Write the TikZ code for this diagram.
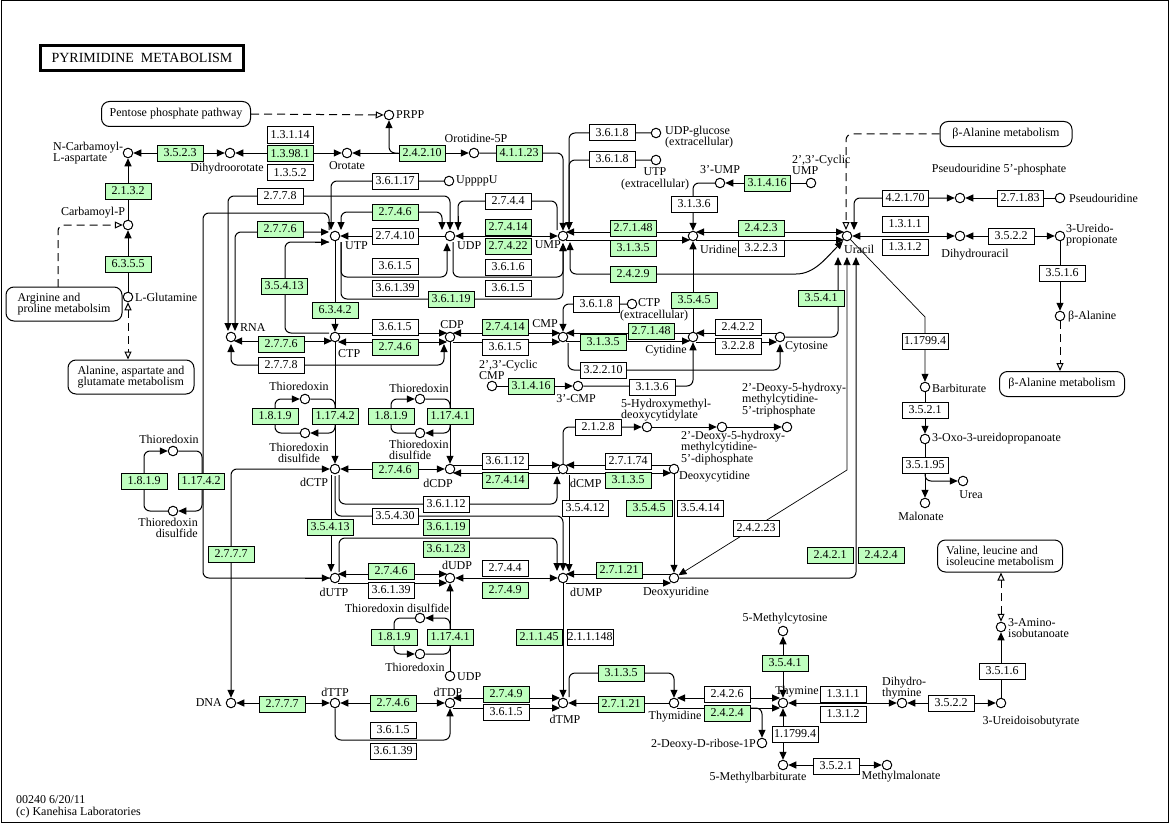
\documentclass[tikz,border=0pt]{standalone}
\usepackage{fontspec}
\setmainfont{Liberation Serif}
\usetikzlibrary{arrows.meta,calc}
\definecolor{kgreen}{HTML}{BFFFBF}
\pgfdeclarelayer{bg}
\pgfsetlayers{bg,main}
\newcommand\kfont{\fontsize{12}{11.5}\selectfont}
\tikzset{
 cpd/.style={circle,draw,line width=1pt,minimum size=9.5pt,inner sep=0pt,fill=white},
 ez/.style={draw,line width=1pt,minimum width=46pt,minimum height=16pt,inner sep=0pt,fill=white,font=\kfont},
 gz/.style={ez,fill=kgreen},
 lb/.style={inner sep=0pt,font=\kfont,align=center},
 mapbox/.style={draw,line width=1pt,rounded corners=8pt,fill=white,inner sep=0pt,font=\kfont,align=left},
 ln/.style={line width=1pt,rounded corners=6pt},
 thn/.style={line width=0.7pt},
 dsh/.style={line width=1pt,dash pattern=on 8pt off 5pt,rounded corners=6pt},
 ar/.style={-{Triangle[length=8pt,width=7pt]}},
 ab/.style={{Triangle[length=8pt,width=7pt]}-{Triangle[length=8pt,width=7pt]}},
 oa/.style={-{Triangle[open,length=8pt,width=7pt]}},
 oab/.style={{Triangle[open,length=8pt,width=7pt]}-{Triangle[open,length=8pt,width=7pt]}}
}
\begin{document}
\begin{tikzpicture}[x=1pt,y=-1pt]
\useasboundingbox (0,0) rectangle (1172,824);
\draw[line width=1pt] (1,1) rectangle (1168,822);
\node[draw,line width=2.5pt,minimum width=203pt,minimum height=25pt,inner sep=0pt,font=\fontsize{14}{14}\selectfont] (title) at (142,58) {PYRIMIDINE\ \ METABOLISM};
% maps
\node[mapbox,minimum width=149pt,minimum height=25pt] (ppp) at (176,114) {Pentose phosphate pathway};
\node[mapbox,minimum width=116pt,minimum height=34pt] (argmap) at (64,304) {Arginine and\\proline metabolsim};
\node[mapbox,minimum width=126pt,minimum height=34pt] (alamap) at (131,377) {Alanine, aspartate and\\glutamate metabolism};
\node[mapbox,minimum width=132pt,minimum height=25pt] (bamap) at (1006,134) {β-Alanine metabolism};
\node[mapbox,minimum width=125pt,minimum height=25pt] (bamapb) at (1062,384) {β-Alanine metabolism};
\node[mapbox,minimum width=125pt,minimum height=32pt] (valmap) at (1000,556) {Valine, leucine and\\isoleucine metabolism};
\coordinate (argtop) at (58,287);
\node[lb,anchor=west,align=left] (foot) at (16,807) {00240 6/20/11\\(c) Kanehisa Laboratories};
% compounds
\node[cpd] (prpp) at (389,115) {};
\node[cpd] (ncasp) at (128,153) {};
\node[cpd] (dhoro) at (230,153) {};
\node[cpd] (orot) at (347,153) {};
\node[cpd] (omp) at (474,153) {};
\node[cpd] (carbp) at (128,225) {};
\node[cpd] (gln) at (128,297) {};
\node[cpd] (uppppu) at (449,181) {};
\node[cpd] (udpglc) at (656,133) {};
\node[cpd] (utpex) at (656,160) {};
\node[cpd] (ump3) at (720,183) {};
\node[cpd] (cump) at (811,183) {};
\node[cpd] (utp) at (335,236) {};
\node[cpd] (udp) at (450,236) {};
\node[cpd] (ump) at (563,236) {};
\node[cpd] (urd) at (693,236) {};
\node[cpd] (ura) at (847,236) {};
\node[cpd] (psip) at (960,198) {};
\node[cpd] (psi) at (1060,198) {};
\node[cpd] (dhu) at (960,236) {};
\node[cpd] (urp) at (1060,236) {};
\node[cpd] (bala) at (1060,316) {};
\node[cpd] (rna) at (231,337) {};
\node[cpd] (ctp) at (335,337) {};
\node[cpd] (cdp) at (450,337) {};
\node[cpd] (cmp) at (563,337) {};
\node[cpd] (cyd) at (693,337) {};
\node[cpd] (cyt) at (780,337) {};
\node[cpd] (ctpex) at (632,304) {};
\node[cpd] (ccmp) at (492,386) {};
\node[cpd] (cmp3) at (578,386) {};
\node[cpd] (trxa) at (305,399) {};
\node[cpd] (trxssa) at (305,433) {};
\node[cpd] (trxb) at (420,399) {};
\node[cpd] (trxssb) at (420,433) {};
\node[cpd] (trxc) at (173,451) {};
\node[cpd] (trxssc) at (173,511) {};
\node[cpd] (hmdcmp) at (647,427) {};
\node[cpd] (hmdcdp) at (722,427) {};
\node[cpd] (hmdctp) at (787,427) {};
\node[cpd] (dctp) at (335,469) {};
\node[cpd] (dcdp) at (450,469) {};
\node[cpd] (dcmp) at (563,469) {};
\node[cpd] (dcyd) at (674,469) {};
\node[cpd] (dutp) at (335,578) {};
\node[cpd] (dudp) at (450,578) {};
\node[cpd] (dump) at (563,578) {};
\node[cpd] (durd) at (674,578) {};
\node[cpd] (trxssd) at (420,618) {};
\node[cpd] (trxd) at (420,654) {};
\node[cpd] (udpb) at (450,676) {};
\node[cpd] (dna) at (231,703) {};
\node[cpd] (dttp) at (335,703) {};
\node[cpd] (dtdp) at (450,703) {};
\node[cpd] (dtmp) at (563,703) {};
\node[cpd] (thd) at (674,703) {};
\node[cpd] (drib) at (762,743) {};
\node[cpd] (thy) at (783,703) {};
\node[cpd] (mcyt) at (783,631) {};
\node[cpd] (mbarb) at (783,765) {};
\node[cpd] (mmal) at (887,765) {};
\node[cpd] (dht) at (902,703) {};
\node[cpd] (uib) at (1001,703) {};
\node[cpd] (aib) at (1001,627) {};
\node[cpd] (barb) at (925,387) {};
\node[cpd] (oxo) at (925,439) {};
\node[cpd] (urea) at (963,481) {};
\node[cpd] (mal) at (925,503) {};
% labels
\node[lb,anchor=west] (l1) at (396,115) {PRPP};
\node[lb,anchor=west,align=left] (l2) at (53,153) {N-Carbamoyl-\\L-aspartate};
\node[lb] (l3) at (227,169) {Dihydroorotate};
\node[lb] (l4) at (347,166) {Orotate};
\node[lb] (l5) at (476,138) {Orotidine-5P};
\node[lb] (l6) at (93,213) {Carbamoyl-P};
\node[lb,anchor=west] (l7) at (135,297) {L-Glutamine};
\node[lb,anchor=west] (l8) at (456,181) {UppppU};
\node[lb,anchor=west,align=left] (l9) at (665,137) {UDP-glucose\\(extracellular)};
\node[lb] (l10) at (655,179) {UTP\\(extracellular)};
\node[lb] (l11) at (720,170) {3'-UMP};
\node[lb,anchor=west,align=left] (l12) at (792,165) {2',3'-Cyclic\\UMP};
\node[lb,anchor=west] (l13) at (345,246) {UTP};
\node[lb,anchor=west] (l14) at (457,246) {UDP};
\node[lb,anchor=east] (l15) at (561,245) {UMP};
\node[lb,anchor=west] (l16) at (700,249) {Uridine};
\node[lb,anchor=west] (l17) at (844,249) {Uracil};
\node[lb] (l18) at (999,170) {Pseudouridine 5'-phosphate};
\node[lb,anchor=west] (l19) at (1069,198) {Pseudouridine};
\node[lb] (l20) at (975,255) {Dihydrouracil};
\node[lb,anchor=west,align=left] (l21) at (1066,235) {3-Ureido-\\propionate};
\node[lb,anchor=west] (l22) at (1068,317) {β-Alanine};
\node[lb,anchor=west] (l23) at (240,328) {RNA};
\node[lb,anchor=west] (l24) at (338,354) {CTP};
\node[lb] (l25) at (452,325) {CDP};
\node[lb] (l26) at (545,324) {CMP};
\node[lb] (l27) at (666,351) {Cytidine};
\node[lb,anchor=west] (l28) at (785,347) {Cytosine};
\node[lb,anchor=west] (l29) at (638,303) {CTP};
\node[lb] (l30) at (654,316) {(extracellular)};
\node[lb,anchor=west,align=left] (l31) at (479,370) {2',3'-Cyclic\\CMP};
\node[lb] (l32) at (576,399) {3'-CMP};
\node[lb] (l33) at (299,386) {Thioredoxin};
\node[lb] (l34) at (299,453) {Thioredoxin\\disulfide};
\node[lb] (l35) at (419,388) {Thioredoxin};
\node[lb,anchor=west,align=left] (l36) at (389,450) {Thioredoxin\\disulfide};
\node[lb] (l37) at (169,439) {Thioredoxin};
\node[lb,anchor=east,align=right] (l38) at (198,528) {Thioredoxin\\disulfide};
\node[lb,anchor=west,align=left] (l39) at (621,410) {5-Hydroxymethyl-\\deoxycytidylate};
\node[lb,anchor=west,align=left] (l40) at (681,448) {2'-Deoxy-5-hydroxy-\\methylcytidine-\\5'-diphosphate};
\node[lb,anchor=west,align=left] (l41) at (742,400) {2'-Deoxy-5-hydroxy-\\methylcytidine-\\5'-triphosphate};
\node[lb] (l42) at (314,482) {dCTP};
\node[lb] (l43) at (438,483) {dCDP};
\node[lb,anchor=west] (l44) at (570,483) {dCMP};
\node[lb,anchor=west] (l45) at (679,477) {Deoxycytidine};
\node[lb] (l46) at (334,592) {dUTP};
\node[lb] (l47) at (457,565) {dUDP};
\node[lb,anchor=west] (l48) at (570,592) {dUMP};
\node[lb] (l49) at (676,593) {Deoxyuridine};
\node[lb] (l50) at (397,608) {Thioredoxin disulfide};
\node[lb] (l51) at (415,667) {Thioredoxin};
\node[lb,anchor=west] (l52) at (457,677) {UDP};
\node[lb,anchor=east] (l53) at (222,703) {DNA};
\node[lb] (l54) at (335,692) {dTTP};
\node[lb] (l55) at (448,692) {dTDP};
\node[lb] (l56) at (565,719) {dTMP};
\node[lb] (l57) at (675,717) {Thymidine};
\node[lb,anchor=east] (l58) at (756,745) {2-Deoxy-D-ribose-1P};
\node[lb] (l59) at (797,692) {Thymine};
\node[lb] (l60) at (785,619) {5-Methylcytosine};
\node[lb] (l61) at (758,778) {5-Methylbarbiturate};
\node[lb] (l62) at (901,777) {Methylmalonate};
\node[lb,anchor=west,align=left] (l63) at (882,688) {Dihydro-\\thymine};
\node[lb] (l64) at (1031,722) {3-Ureidoisobutyrate};
\node[lb,anchor=west,align=left] (l65) at (1008,628) {3-Amino-\\isobutanoate};
\node[lb,anchor=west] (l66) at (932,388) {Barbiturate};
\node[lb,anchor=west] (l67) at (932,439) {3-Oxo-3-ureidopropanoate};
\node[lb] (l68) at (971,495) {Urea};
\node[lb] (l69) at (921,516) {Malonate};
% enzymes
\node[gz] (e3523) at (180,153) {3.5.2.3};
\node[ez] (e13114) at (290,135) {1.3.1.14};
\node[gz] (e13981) at (290,153.5) {1.3.98.1};
\node[ez] (e1352) at (290,172.5) {1.3.5.2};
\node[gz] (e24210) at (422,153) {2.4.2.10};
\node[gz] (e41123) at (519,153) {4.1.1.23};
\node[gz] (e2132) at (128,191) {2.1.3.2};
\node[gz] (e6355) at (128,264) {6.3.5.5};
\node[ez] (e2778a) at (280,196) {2.7.7.8};
\node[gz] (e2776a) at (280,229) {2.7.7.6};
\node[gz] (e35413a) at (284,286) {3.5.4.13};
\node[ez] (e36117) at (395,181) {3.6.1.17};
\node[gz] (e2746a) at (395,212) {2.7.4.6};
\node[ez] (e27410) at (395,236) {2.7.4.10};
\node[ez] (e3615a) at (395,266) {3.6.1.5};
\node[ez] (e36139a) at (395,288) {3.6.1.39};
\node[ez] (e2744a) at (508,201) {2.7.4.4};
\node[gz] (e27414a) at (508,227) {2.7.4.14};
\node[gz] (e27422) at (508,246) {2.7.4.22};
\node[ez] (e3616) at (508,267) {3.6.1.6};
\node[ez] (e3615b) at (508,288) {3.6.1.5};
\node[gz] (e36119a) at (451,299) {3.6.1.19};
\node[gz] (e6342) at (335,310) {6.3.4.2};
\node[ez] (e3618a) at (612,133) {3.6.1.8};
\node[ez] (e3618b) at (612,159) {3.6.1.8};
\node[gz] (e31416a) at (767,183) {3.1.4.16};
\node[ez] (e3136a) at (694,204) {3.1.3.6};
\node[gz] (e27148a) at (633,228) {2.7.1.48};
\node[gz] (e3135a) at (633,248) {3.1.3.5};
\node[gz] (e2423) at (761,228) {2.4.2.3};
\node[ez] (e3223) at (761,248) {3.2.2.3};
\node[gz] (e2429) at (633,274) {2.4.2.9};
\node[ez] (e42170) at (905,198) {4.2.1.70};
\node[ez] (e27183) at (1020,198) {2.7.1.83};
\node[ez] (e1311a) at (905,224) {1.3.1.1};
\node[ez] (e1312a) at (905,247) {1.3.1.2};
\node[ez] (e3522a) at (1011,236) {3.5.2.2};
\node[ez] (e3516a) at (1062,273) {3.5.1.6};
\node[ez] (e3618c) at (596,304) {3.6.1.8};
\node[gz] (e3545a) at (694,300) {3.5.4.5};
\node[gz] (e3541a) at (821,298) {3.5.4.1};
\node[ez] (e117994a) at (925,341) {1.1799.4};
\node[gz] (e2776b) at (281,344) {2.7.7.6};
\node[ez] (e2778b) at (281,365) {2.7.7.8};
\node[ez] (e3615c) at (395,327) {3.6.1.5};
\node[gz] (e2746b) at (395,347) {2.7.4.6};
\node[gz] (e27414b) at (505,327) {2.7.4.14};
\node[ez] (e3615d) at (505,347) {3.6.1.5};
\node[gz] (e27148b) at (651,331) {2.7.1.48};
\node[gz] (e3135b) at (603,342) {3.1.3.5};
\node[ez] (e2422) at (738,327) {2.4.2.2};
\node[ez] (e3228) at (738,346) {3.2.2.8};
\node[ez] (e32210) at (603,370) {3.2.2.10};
\node[ez] (e3136b) at (652,387) {3.1.3.6};
\node[gz] (e31416b) at (531,386) {3.1.4.16};
\node[gz] (e1819a) at (275,416) {1.8.1.9};
\node[gz] (e11742a) at (335,416) {1.17.4.2};
\node[gz] (e1819b) at (391,416) {1.8.1.9};
\node[gz] (e11741a) at (450,416) {1.17.4.1};
\node[gz] (e1819c) at (144,481) {1.8.1.9};
\node[gz] (e11742b) at (201,481) {1.17.4.2};
\node[ez] (e2128) at (598,427) {2.1.2.8};
\node[gz] (e2746c) at (395,470) {2.7.4.6};
\node[ez] (e36112a) at (505,461) {3.6.1.12};
\node[gz] (e27414c) at (505,480) {2.7.4.14};
\node[ez] (e27174) at (628,461) {2.7.1.74};
\node[gz] (e3135c) at (628,480) {3.1.3.5};
\node[ez] (e36112b) at (446,504) {3.6.1.12};
\node[ez] (e35430) at (395,516) {3.5.4.30};
\node[ez] (e35412) at (585,508) {3.5.4.12};
\node[gz] (e3545b) at (649,508) {3.5.4.5};
\node[ez] (e35414) at (700,508) {3.5.4.14};
\node[ez] (e24223) at (756,528) {2.4.2.23};
\node[gz] (e35413b) at (330,527) {3.5.4.13};
\node[gz] (e36119b) at (446,527) {3.6.1.19};
\node[gz] (e36123) at (446,549) {3.6.1.23};
\node[gz] (e2777a) at (231,554) {2.7.7.7};
\node[gz] (e2421) at (830,555) {2.4.2.1};
\node[gz] (e2424a) at (881,555) {2.4.2.4};
\node[gz] (e2746d) at (391,571) {2.7.4.6};
\node[ez] (e36139b) at (391,590) {3.6.1.39};
\node[ez] (e2744b) at (505,568) {2.7.4.4};
\node[gz] (e2749a) at (505,590) {2.7.4.9};
\node[gz] (e27121a) at (619,570) {2.7.1.21};
\node[gz] (e1819d) at (394,637) {1.8.1.9};
\node[gz] (e11741b) at (450,637) {1.17.4.1};
\node[gz] (e21145) at (539,637) {2.1.1.45};
\node[ez] (e211148) at (590,637) {2.1.1.148};
\node[gz] (e2777b) at (282,704) {2.7.7.7};
\node[gz] (e2746e) at (393,703) {2.7.4.6};
\node[gz] (e2749b) at (506,694) {2.7.4.9};
\node[ez] (e3615e) at (506,712) {3.6.1.5};
\node[ez] (e3615f) at (393,730) {3.6.1.5};
\node[ez] (e36139c) at (393,751) {3.6.1.39};
\node[gz] (e3135d) at (621,673) {3.1.3.5};
\node[gz] (e27121b) at (621,704) {2.7.1.21};
\node[ez] (e2426) at (727,694) {2.4.2.6};
\node[gz] (e2424b) at (727,713) {2.4.2.4};
\node[gz] (e3541b) at (785,663) {3.5.4.1};
\node[ez] (e117994b) at (795,734) {1.1799.4};
\node[ez] (e1311b) at (843,694) {1.3.1.1};
\node[ez] (e1312b) at (843,714) {1.3.1.2};
\node[ez] (e3521a) at (836,766) {3.5.2.1};
\node[ez] (e3522b) at (951,703) {3.5.2.2};
\node[ez] (e3516b) at (1002,671) {3.5.1.6};
\node[ez] (e3521b) at (925,410) {3.5.2.1};
\node[ez] (e35195) at (925,465) {3.5.1.95};
\coordinate (brc) at (745,708);
% connectors
\begin{pgfonlayer}{bg}
\draw[ln,ab] (ncasp) -- (dhoro);
\draw[ln,ab] (dhoro) -- (orot);
\draw[ln,ab] (orot) -- (omp);
\draw[ln,ar] (e24210.west) -| (prpp);
\draw[ln,ar] (omp) -| (ump);
\draw[ln,ar] (udpglc) -| ($(ump)+(6,-6)$);
\draw[ln,ar] (utpex) -| ($(ump)+(6,-6)$);
\draw[ln] ($(ump)+(-6,-6)$) |- ($(udp)+(8,-35)$) -- ($(udp)+(8,-6)$);
\draw[ln,ar] ($(udp)+(8,-20)$) -- ($(udp)+(8,-6)$);
\draw[ln,ab] ($(rna)+(-3,-6)$) |- ($(udp)+(0,-40)$) -- ($(udp)+(0,-6)$);
\draw[ln,ab] ($(rna)+(4,-6)$) |- ($(utp)+(-6,-4)$);
\draw[ln] ($(ctp)+(-6,-4)$) -| (285,262) |- ($(utp)+(-6,6)$);
\draw[ln,ar] ($(utp)+(-20,6)$) -- ($(utp)+(-6,6)$);
\draw[ln] ($(utp)+(-6,-6)$) |- (203,213) |- (dutp);
\draw[ln,ar] ($(dutp)+(-30,0)$) -- (dutp);
\draw[ln,ar] (uppppu) -| ($(utp)+(-4,-6)$);
\draw[ln,ab] ($(utp)+(6,-6)$) |- (395,212) -| ($(udp)+(-8,-6)$);
\draw[ln,ar] (udp) -- (utp);
\draw[ln,ab] (udp) -- (ump);
\draw[ln,ar] ($(utp)+(6,6)$) |- ($(udp)+(-3,41)$) -- ($(udp)+(-3,7)$);
\draw[ln,ar] ($(udp)+(3,6)$) |- ($(ump)+(0,41)$) -- ($(ump)+(0,7)$);
\draw[ln,ar] ($(utp)+(6,6)$) |- ($(ump)+(0,63)$) -- ($(ump)+(0,7)$);
\draw[ln,ab] ($(ump)+(7,6)$) |- (790,274) to[out=0,in=-135] ($(ura)+(-4,5)$);
\draw[ln,ar] ($(urd)+(-3,-4)$) -- ($(ump)+(3,-4)$);
\draw[ln,ar] ($(ump)+(3,4)$) -- ($(urd)+(-3,4)$);
\draw[ln,ab] ($(urd)+(3,-4)$) -- ($(ura)+(-3,-4)$);
\draw[ln,ar] ($(urd)+(3,4)$) -- ($(ura)+(-3,4)$);
\draw[ln,ar] (ump3) -| (urd);
\draw[ln,ar] (cump) -- (ump3);
\draw[ln,ar] (cyd) -- (urd);
\draw[dsh,oa] (bamap.west) -| ($(ura)+(-1,-6)$);
\draw[ln,ab] ($(ura)+(7,-6)$) |- (psip);
\draw[ln,ar] (psi) -- (psip);
\draw[ln,ab] (ura) -- (dhu);
\draw[ln,ab] (dhu) -- (urp);
\draw[ln,ar] (urp) -- (bala);
\draw[dsh,oa] (bala) -- (bala |- bamapb.north);
\draw[thn,ar] (ura) -- (925,317) -- (barb);
\draw[ln,ar] (barb) -- (oxo);
\draw[ln,ar] (oxo) -- (mal);
\draw[ln,ar] (e35195.south) |- (urea);
\draw[ln,ar] (cyt) -| ($(ura)+(-9,21)$);
\draw[thn,ab] ($(ura)+(0,21)$) -- (847,470) -- (durd);
\draw[ln,ar] (durd) -| ($(ura)+(9,21)$);
\draw[ln,ar] (utp) -- (ctp);
\draw[ln,ab] ($(rna)+(3,4)$) -- ($(ctp)+(-3,4)$);
\draw[ln,ab] ($(rna)+(0,7)$) |- ($(cdp)+(-6,28)$) -- ($(cdp)+(-6,7)$);
\draw[ln,ar] ($(ctp)+(3,-4)$) -- ($(cdp)+(-3,-4)$);
\draw[ln,ab] ($(ctp)+(3,5)$) -- ($(cdp)+(-3,5)$);
\draw[ln,ab] ($(cdp)+(3,-4)$) -- ($(cmp)+(-3,-4)$);
\draw[ln,ar] ($(cdp)+(3,5)$) -- ($(cmp)+(-3,5)$);
\draw[ln,ar] (ctpex) -| (cmp);
\draw[ln,ar] ($(cyd)+(-3,-4)$) -- ($(cmp)+(3,-4)$);
\draw[ln,ar] ($(cmp)+(3,4)$) -- ($(cyd)+(-3,4)$);
\draw[ln,ar] ($(cyt)+(-3,-4)$) -- ($(cyd)+(3,-4)$);
\draw[ln,ar] ($(cyd)+(3,5)$) -- ($(cyt)+(-3,5)$);
\draw[ln,ar] ($(cmp)+(5,6)$) |- ($(cyt)+(0,33)$) -- ($(cyt)+(0,7)$);
\draw[ln,ar] (cmp3) -| (cyd);
\draw[ln,ar] (ccmp) -- (cmp3);
\draw[ln,ar] (ctp) -- (dctp);
\draw[ln,ar] (cdp) -- (dcdp);
\draw[ln,ar] (trxssa) -| (275,416) |- (trxa);
\draw[ln,ar] (trxa) -| (335,416) |- (trxssa);
\draw[ln,ar] (trxssb) -| (391,416) |- (trxb);
\draw[ln,ar] (trxb) -| (450,416) |- (trxssb);
\draw[ln,ar] (trxssc) -| (144,481) |- (trxc);
\draw[ln,ar] (trxc) -| (202,481) |- (trxssc);
\draw[ln,ar] (trxssd) -| (394,636) |- (trxd);
\draw[ln,ar] (trxd) -| (450,636) |- (trxssd);
\draw[ln,ab] (dctp) -- (dcdp);
\draw[ln,ar] ($(dcdp)+(3,-4)$) -- ($(dcmp)+(-3,-4)$);
\draw[ln,ar] ($(dcmp)+(-3,4)$) -- ($(dcdp)+(3,4)$);
\draw[ln,ar] ($(dcyd)+(-3,-4)$) -- ($(dcmp)+(3,-4)$);
\draw[ln,ar] ($(dcmp)+(3,4)$) -- ($(dcyd)+(-3,4)$);
\draw[ln,ar] (dcmp) |- (hmdcmp);
\draw[ln,ar] (hmdcmp) -- (hmdcdp);
\draw[ln,ar] (hmdcdp) -- (hmdctp);
\draw[ln,ar] (dcyd) -- (durd);
\draw[ln,ab] (dctp) -| (dna);
\draw[ln,ar] ($(dctp)+(4,6)$) |- ($(dcmp)+(-6,35)$) -- ($(dcmp)+(-6,7)$);
\draw[ln,ar] ($(dctp)+(0,7)$) |- ($(dump)+(0,-62)$) -- ($(dump)+(0,-7)$);
\draw[ln,ar] ($(dctp)+(-4,6)$) -- ($(dutp)+(-4,-6)$);
\draw[ln,ar] ($(dcmp)+(6,6)$) -- ($(dump)+(6,-6)$);
\draw[ln,ar] ($(dutp)+(4,-6)$) |- ($(dump)+(-6,-40)$) -- ($(dump)+(-6,-7)$);
\draw[ln,ab] ($(dutp)+(3,-4)$) -- ($(dudp)+(-3,-4)$);
\draw[ln,ar] ($(dutp)+(3,5)$) -- ($(dudp)+(-3,5)$);
\draw[ln,ab] (dudp) -- (dump);
\draw[ln,ar] ($(durd)+(-3,-4)$) -- ($(dump)+(3,-4)$);
\draw[ln,ar] ($(dump)+(3,5)$) -- ($(durd)+(-3,5)$);
\draw[ln,ar] (udpb) -- (dudp);
\draw[ln,ar] (dump) -- (dtmp);
\draw[ln,ab] (dttp) -- (dna);
\draw[ln,ab] (dttp) -- (dtdp);
\draw[ln,ab] ($(dtdp)+(3,-5)$) -- ($(dtmp)+(-3,-5)$);
\draw[ln,ar] ($(dtdp)+(3,5)$) -- ($(dtmp)+(-3,5)$);
\draw[ln,ar] (dttp) |- ($(dtdp)+(0,37)$) -- (dtdp);
\draw[ln,ar] (thd) -- (dtmp);
\draw[ln,ar] ($(dtmp)+(6,-6)$) |- ($(thd)+(0,-30)$) -- (thd);
\draw[ln,ab] ($(thd)+(3,-5)$) -- ($(thy)+(-3,-5)$);
\draw[ln,ar] ($(thd)+(3,5)$) -- ($(thy)+(-3,5)$);
\draw[ln,ar] (brc) -| (drib);
\draw[ln,ab] (mcyt) -- (thy);
\draw[ln,ab] (thy) -- (mbarb);
\draw[ln,ab] (mbarb) -- (mmal);
\draw[ln,ab] (thy) -- (dht);
\draw[ln,ab] (dht) -- (uib);
\draw[ln,ar] (uib) -- (aib);
\draw[dsh,oab] (aib) -- (aib |- valmap.south);
\draw[dsh,oa] (ppp.east) -- (prpp);
\draw[ln,ar] (gln) -- (carbp);
\draw[ln,ar] (carbp) -- (ncasp);
\draw[dsh,oa] (argtop) |- (carbp);
\draw[dsh,oab] (gln) -- (gln |- alamap.north);
\end{pgfonlayer}
\end{tikzpicture}
\end{document}
